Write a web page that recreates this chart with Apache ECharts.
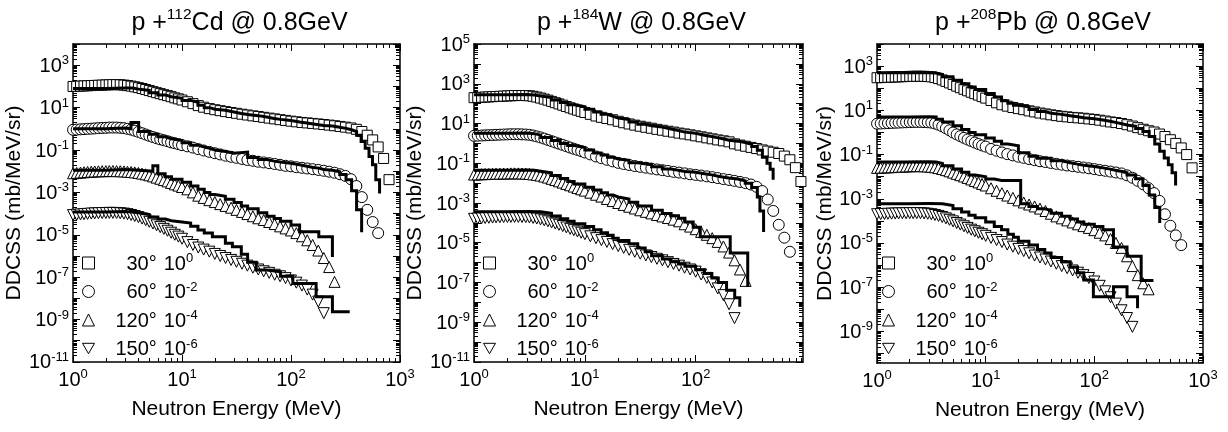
<!DOCTYPE html>
<html><head><meta charset="utf-8">
<script src="https://cdn.jsdelivr.net/npm/echarts@6/dist/echarts.min.js"></script>
<style>html,body{margin:0;padding:0;background:#fff}#c{width:1228px;height:432px}</style>
</head><body><div id="c"></div>
<script>
// ---------------- data ----------------
const EXP_ENERGY = [1.00,1.08,1.17,1.26,1.36,1.47,1.58,1.71,1.85,2.00,
 2.15,2.32,2.51,2.71,2.93,3.16,3.41,3.68,3.98,4.30,
 4.64,5.01,5.41,5.84,6.31,6.81,7.36,7.94,8.58,9.26,
 10.0,11.2,12.6,14.1,15.8,17.8,20.0,22.4,25.1,28.2,
 31.6,35.5,39.8,44.7,50.1,56.2,63.1,70.8,79.4,89.1,
 100,112,126,141,158,178,200,224,251,282,
 316,355,398,447,501,562,631,708,794,891];

const ANGLE_LABELS = ['30°','60°','120°','150°'];
const SCALE_EXPONENTS = ['0','-2','-4','-6'];

// p + 112Cd
const CD_EXP_30 = [100,102,104,106,108,110,112,114,116,118,
 120,122,122,120,116,110,104,96,88,80,
 72,64,57,51,46,41,37,33,29,26,
 23,19,15.5,12.5,10.5,9,8,7.2,6.5,5.9,
 5.4,4.9,4.5,4.1,3.8,3.5,3.2,2.95,2.7,2.5,
 2.3,2.15,2.0,1.9,1.8,1.7,1.6,1.5,1.4,1.3,
 1.2,1.1,0.95,0.75,0.5,0.3,0.14,0.04,0.004,null];
const CD_EXP_60 = [0.9,0.92,0.95,0.97,1.0,1.02,1.05,1.08,1.1,1.12,
 1.15,1.15,1.15,1.12,1.08,1.0,0.92,0.82,0.72,0.62,
 0.54,0.47,0.41,0.36,0.32,0.29,0.26,0.23,0.21,0.19,
 0.17,0.15,0.13,0.11,0.095,0.082,0.071,0.062,0.054,0.048,
 0.043,0.038,0.034,0.031,0.028,0.026,0.024,0.022,0.02,0.018,
 0.017,0.0155,0.0145,0.0135,0.0125,0.0115,0.0105,0.0095,0.0085,0.0072,
 0.006,0.0042,0.002,6e-4,1.5e-4,4e-5,1.2e-5,null,null,null];
const CD_EXP_120 = [0.008,0.0083,0.0086,0.0089,0.0092,0.0095,0.0097,0.0099,0.01,0.0101,
 0.0102,0.0102,0.0101,0.01,0.0098,0.0095,0.0092,0.0088,0.0083,0.0077,
 0.0071,0.0064,0.0057,0.005,0.0044,0.0038,0.0033,0.0028,0.0024,0.0021,
 0.0018,0.0014,0.001,7e-4,5.5e-4,4.3e-4,3.5e-4,2.8e-4,2.3e-4,1.9e-4,
 1.5e-4,1.2e-4,9.5e-5,7.5e-5,6e-5,5e-5,4e-5,3.2e-5,2.5e-5,2e-5,
 1.6e-5,1.2e-5,8.5e-6,5.5e-6,3.3e-6,1.8e-6,8e-7,3e-7,6e-8,null,
 null,null,null,null,null,null,null,null,null,null];
const CD_EXP_150 = [8.5e-5,8.8e-5,9.1e-5,9.4e-5,9.7e-5,1e-4,1.02e-4,1.04e-4,1.06e-4,1.07e-4,
 1.08e-4,1.08e-4,1.07e-4,1.04e-4,1e-4,9.4e-5,8.6e-5,7.7e-5,6.8e-5,5.8e-5,
 4.9e-5,4.1e-5,3.4e-5,2.8e-5,2.3e-5,1.9e-5,1.55e-5,1.25e-5,1e-5,8.2e-6,
 6.5e-6,4.5e-6,3.3e-6,2.5e-6,2e-6,1.6e-6,1.25e-6,1e-6,8e-7,6.5e-7,
 5.3e-7,4.3e-7,3.5e-7,2.8e-7,2.3e-7,1.9e-7,1.6e-7,1.3e-7,1.1e-7,9e-8,
 7e-8,5.5e-8,4e-8,2.6e-8,1.5e-8,7e-9,2e-9,null,null,null,
 null,null,null,null,null,null,null,null,null,null];
const CD_CALC_30_E = [1,2,3,3.5,4,5,6,7,8,10,12,14,16,18,20,25,30,35,40,50,60,70,80,100,120,140,160,180,200,240,280,320,360,400,440,480,520,560,600,650];
const CD_CALC_30_V = [80,85,85,75,65,50,40,33,28,22,18,13,10,8.5,7.5,6.2,5.3,4.7,4.2,3.6,3.1,2.8,2.5,2.1,1.9,1.7,1.55,1.45,1.35,1.2,1.05,0.9,0.75,0.5,0.25,0.12,0.05,0.02,0.004,0.0009];
const CD_CALC_60_E = [1,2,3,3.4,4,5,6,7,8,10,12,14,16,18,20,25,30,40,50,60,70,80,100,120,140,160,180,200,240,280,320,360,400,445];
const CD_CALC_60_V = [1.0,1.1,1.0,2.0,0.75,0.55,0.42,0.34,0.28,0.22,0.17,0.14,0.12,0.1,0.085,0.07,0.08,0.045,0.036,0.03,0.027,0.024,0.02,0.017,0.015,0.014,0.012,0.011,0.0095,0.007,0.004,0.0012,1.5e-4,1.3e-5];
const CD_CALC_120_E = [1,2,3,4,5.4,6,7,8,10,12,14,16,18,20,25,30,35,40,50,60,70,80,100,120,180,240];
const CD_CALC_120_V = [0.011,0.012,0.011,0.01,0.018,0.0075,0.0055,0.0042,0.003,0.002,0.0014,0.001,8e-4,6.5e-4,4.8e-4,3.3e-4,2.3e-4,1.7e-4,1.1e-4,7.5e-5,5.8e-5,4.3e-5,2.9e-5,1.4e-5,8e-6,9e-7];
const CD_CALC_150_E = [1,2,3,3.5,4,5,6,7,8,10,12,14,16,19,25,29,35,40,48,60,80,104,170,240,346];
const CD_CALC_150_V = [1.2e-4,1.25e-4,1.2e-4,1.1e-4,9e-5,7e-5,5.5e-5,4.6e-5,4e-5,3.6e-5,2.5e-5,1.7e-5,1.2e-5,8e-6,4e-6,2.7e-6,1.2e-6,5e-7,2.2e-7,1.8e-7,1.1e-7,5e-8,1.2e-8,2.3e-9,2.3e-9];

// p + 184W
const W_EXP_30 = [200,205,210,215,220,225,230,235,240,245,
 250,255,258,258,255,250,235,215,192,170,
 150,130,112,97,84,72,62,54,47,41,
 36,29,24,20.5,18,15.5,13,11,9.5,8.3,
 7.3,6.5,5.8,5.1,4.6,4.1,3.7,3.3,3.0,2.7,
 2.4,2.15,1.9,1.7,1.5,1.35,1.2,0.95,0.82,0.72,
 0.63,0.55,0.47,0.41,0.36,0.31,0.23,0.15,0.06,0.012];
const W_EXP_60 = [2.4,2.45,2.5,2.55,2.6,2.65,2.7,2.75,2.8,2.85,
 2.9,2.9,2.9,2.85,2.8,2.7,2.5,2.25,2.0,1.75,
 1.5,1.3,1.12,0.97,0.84,0.72,0.62,0.54,0.47,0.41,
 0.35,0.28,0.22,0.18,0.15,0.125,0.105,0.092,0.082,0.073,
 0.066,0.06,0.054,0.049,0.045,0.041,0.037,0.034,0.031,0.028,
 0.026,0.024,0.022,0.02,0.018,0.016,0.0145,0.013,0.0115,0.01,
 0.0085,0.0065,0.004,0.0015,4e-4,8e-5,1.8e-5,3.5e-6,null,null];
const W_EXP_120 = [0.027,0.0275,0.028,0.0285,0.029,0.0295,0.03,0.03,0.0305,0.0305,
 0.031,0.031,0.031,0.0305,0.03,0.029,0.0275,0.026,0.024,0.0215,
 0.019,0.0165,0.0143,0.0123,0.0106,0.0091,0.0078,0.0067,0.0057,0.0049,
 0.0042,0.0033,0.0026,0.0021,0.0016,0.00125,0.001,8e-4,6.5e-4,5.3e-4,
 4.3e-4,3.6e-4,3e-4,2.5e-4,2.1e-4,1.75e-4,1.45e-4,1.2e-4,8.5e-5,6.5e-5,
 4.8e-5,3.5e-5,2.5e-5,1.7e-5,1.1e-5,6.5e-6,3.2e-6,1.3e-6,4.5e-7,1.2e-7,
 null,null,null,null,null,null,null,null,null,null];
const W_EXP_150 = [1.6e-4,1.65e-4,1.7e-4,1.75e-4,1.8e-4,1.85e-4,1.9e-4,1.93e-4,1.96e-4,1.98e-4,
 2e-4,2e-4,2e-4,1.98e-4,1.94e-4,1.88e-4,1.78e-4,1.65e-4,1.5e-4,1.35e-4,
 1.2e-4,1.05e-4,9.2e-5,8e-5,6.9e-5,5.9e-5,5e-5,4.3e-5,3.7e-5,3.2e-5,
 2.7e-5,2.1e-5,1.7e-5,1.35e-5,1.1e-5,8.5e-6,6.8e-6,5.5e-6,4.4e-6,3.5e-6,
 2.8e-6,2.3e-6,1.9e-6,1.55e-6,1.3e-6,1.05e-6,8.5e-7,7e-7,5.5e-7,4.5e-7,
 3.5e-7,2.5e-7,1.7e-7,1e-7,5e-8,2.3e-8,8e-9,1.6e-9,null,null,
 null,null,null,null,null,null,null,null,null,null];
const W_CALC_30_E = [1,2,3,3.5,4,5,6,7,8,10,12,14,16,18,20,25,30,35,40,50,60,70,80,100,120,140,160,180,200,240,280,320,360,400,440,470,500];
const W_CALC_30_V = [280,290,270,240,205,155,115,88,70,52,38,29,23,19,16,12,9.3,7.8,6.6,5.3,4.4,3.7,3.2,2.6,2.2,1.9,1.65,1.45,1.3,1.1,0.9,0.7,0.45,0.2,0.1,0.05,0.015];
const W_CALC_60_E = [1,2,3,3.5,4,5,6,7,8,10,12,14,16,18,20,25,30,40,50,60,70,80,100,120,140,160,180,200,240,280,320,360,380,410];
const W_CALC_60_V = [3.2,3.3,3.1,2.6,2.0,1.4,1.0,0.78,0.62,0.46,0.33,0.26,0.2,0.165,0.14,0.105,0.085,0.066,0.052,0.044,0.039,0.035,0.03,0.026,0.022,0.02,0.018,0.016,0.013,0.01,0.006,0.002,4e-4,3.5e-5];
const W_CALC_120_E = [1,2,3,3.5,4,5,6,7,8,10,12,14,16,18,20,25,30,40,50,60,70,80,95,110,205,295];
const W_CALC_120_V = [0.045,0.046,0.045,0.04,0.033,0.024,0.017,0.012,0.009,0.0062,0.0045,0.0033,0.0025,0.002,0.0016,0.0011,7e-4,4.3e-4,3e-4,2.3e-4,1.7e-4,1.1e-4,6e-5,2e-5,3e-6,6e-8];
const W_CALC_150_E = [1,2,3,4,5,6,7,8,10,12,14,16,18,20,25,30,35,40,50,60,70,80,100,120,140,160,190,225,250];
const W_CALC_150_V = [3.6e-4,3.7e-4,3.6e-4,3e-4,2.2e-4,1.6e-4,1.2e-4,9e-5,6.5e-5,4.5e-5,3.2e-5,2.4e-5,1.7e-5,1.3e-5,9e-6,5.5e-6,3.5e-6,2.2e-6,1.5e-6,1.1e-6,8.5e-7,6.5e-7,4.3e-7,2.8e-7,1.7e-7,1e-7,4e-8,1.7e-8,6e-9];

// p + 208Pb
const PB_EXP_30 = [300,305,310,315,320,325,330,335,340,345,
 348,350,350,348,340,330,305,275,240,205,
 175,148,125,106,90,77,66,57,49,42,
 36,28,22,18,15.5,13.5,12,10.8,9.5,8.5,
 7.6,6.9,6.3,5.8,5.4,5.1,4.8,4.6,4.4,4.1,
 3.9,3.6,3.3,3.0,2.8,2.55,2.25,1.95,1.65,1.4,
 1.2,1.05,0.85,0.66,0.47,0.32,0.2,0.1,0.025,null];
const PB_EXP_60 = [2.5,2.55,2.6,2.65,2.7,2.75,2.8,2.85,2.9,2.95,
 3.0,3.0,3.0,2.95,2.9,2.8,2.55,2.25,1.9,1.55,
 1.25,1.0,0.82,0.68,0.57,0.48,0.41,0.35,0.3,0.26,
 0.23,0.18,0.15,0.125,0.105,0.092,0.08,0.071,0.063,0.056,
 0.05,0.046,0.042,0.038,0.035,0.032,0.03,0.028,0.026,0.024,
 0.022,0.02,0.0185,0.017,0.0155,0.014,0.0115,0.009,0.0065,0.0045,
 0.003,0.0018,8e-4,2e-4,6e-5,2.2e-5,8e-6,null,null,null];
const PB_EXP_120 = [0.025,0.0255,0.026,0.0265,0.027,0.0275,0.028,0.0285,0.029,0.0295,
 0.03,0.03,0.03,0.0295,0.029,0.028,0.0265,0.0245,0.0222,0.0198,
 0.0175,0.0153,0.0134,0.0117,0.0102,0.0088,0.0075,0.0064,0.0055,0.0047,
 0.004,0.003,0.0023,0.0018,0.0014,0.0011,8.5e-4,6.8e-4,5.5e-4,4.5e-4,
 3.6e-4,2.8e-4,2.1e-4,1.6e-4,1.3e-4,1.05e-4,8.5e-5,7e-5,5.8e-5,4.8e-5,
 3.8e-5,2.9e-5,2.2e-5,1.5e-5,1e-5,6e-6,2.5e-6,9e-7,3.5e-7,1.5e-7,
 8e-8,null,null,null,null,null,null,null,null,null];
const PB_EXP_150 = [2e-4,2.03e-4,2.06e-4,2.09e-4,2.12e-4,2.15e-4,2.18e-4,2.2e-4,2.22e-4,2.23e-4,
 2.24e-4,2.24e-4,2.22e-4,2.18e-4,2.1e-4,2e-4,1.85e-4,1.68e-4,1.5e-4,1.3e-4,
 1.12e-4,9.5e-5,8e-5,6.8e-5,5.7e-5,4.8e-5,4e-5,3.4e-5,2.9e-5,2.5e-5,
 2.1e-5,1.7e-5,1.35e-5,1.1e-5,8.5e-6,6.8e-6,5.4e-6,4.3e-6,3.4e-6,2.7e-6,
 2.2e-6,1.8e-6,1.45e-6,1.15e-6,9e-7,7.2e-7,5.7e-7,4.5e-7,3.5e-7,2.6e-7,
 1.8e-7,1.15e-7,6.5e-8,3.5e-8,1.8e-8,9e-9,4e-9,1.6e-9,null,null,
 null,null,null,null,null,null,null,null,null,null];
const PB_CALC_30_E = [1,2,3,3.5,4,5,6,7,8,10,12,14,16,18,20,25,30,35,40,50,60,70,80,100,120,140,160,180,200,240,280,320,360,400,440,480,520,560];
const PB_CALC_30_V = [500,510,490,420,330,230,160,115,88,58,40,27,21,17,14.5,11,8.8,7.5,6.6,5.7,5.1,4.6,4.2,3.7,3.2,2.8,2.5,2.2,1.9,1.5,1.1,0.65,0.3,0.14,0.07,0.035,0.015,0.004];
const PB_CALC_60_E = [1,2,3,3.5,4,5,6,7,8,10,12,14,16,20,25,30,40,50,60,70,80,100,120,140,160,180,200,240,280,320,360,400];
const PB_CALC_60_V = [5,5.2,5,4,3,2,1.35,1.0,0.78,0.56,0.4,0.3,0.25,0.12,0.085,0.068,0.052,0.043,0.037,0.033,0.029,0.025,0.022,0.019,0.017,0.015,0.012,0.008,0.004,0.0015,4e-4,8e-5];
const PB_CALC_120_E = [1,2,3,3.5,4,5,6,7,8,10,12,14,16,18,21,25,30,35,40,50,60,70,80,100,120,150,200,270,350];
const PB_CALC_120_V = [0.046,0.047,0.046,0.04,0.031,0.022,0.016,0.012,0.01,0.0078,0.0068,0.0068,0.0068,0.0068,6e-4,4.5e-4,3.5e-4,3e-4,2.2e-4,1.6e-4,1.2e-4,9e-5,7e-5,5.5e-5,4e-5,6.5e-6,2.5e-6,2e-7,2e-7];
const PB_CALC_150_E = [1,2,3,4,5,6,7,8,10,12,14,16,18,20,25,30,35,40,50,60,70,80,98,150,200,250];
const PB_CALC_150_V = [6e-4,6.1e-4,6e-4,5e-4,3.5e-4,2.5e-4,1.8e-4,1.4e-4,9e-5,5.5e-5,4e-5,2.5e-5,1.8e-5,1.2e-5,8e-6,5e-6,3.5e-6,2.2e-6,1.4e-6,8e-7,4.5e-7,2.1e-7,3.7e-8,1.05e-7,3.7e-8,1.1e-8];

// ---------------- chart construction ----------------
const FONT = '"Liberation Sans", Arial, Helvetica, sans-serif';
const BLACK = '#000';

function pairs(xs, ys) { const out = []; for (let i = 0; i < xs.length; i++) if (ys[i] != null) out.push([xs[i], ys[i]]); return out; }
function p10(k) { return Number('1e' + k); }
function decadeList(lo, hi, step) { const a = []; for (let k = lo; k <= hi; k += step) a.push(p10(k)); return a; }
function minorList(lo, hi) { const a = []; for (let k = lo; k < hi; k++) for (let m = 2; m <= 9; m++) a.push(Number(m + 'e' + k)); return a; }
function powLabel(v) { const e = Math.round(Math.log10(v)); return '{b|10}{s|' + e + '}'; }

const RICH = {
  b: { fontFamily: FONT, fontSize: 20, color: BLACK, lineHeight: 22, verticalAlign: 'bottom' },
  s: { fontFamily: FONT, fontSize: 13, color: BLACK, lineHeight: 13, verticalAlign: 'top' }
};

const PANELS = [
  { key: 'Cd', mass: '112', elem: 'Cd', left: 73, top: 44, width: 327, height: 318,
    xMin: 0.999, xMax: 1001, xLabelExp: [0, 1, 2, 3], xTickLo: 0, xTickHi: 3,
    yMin: 0.99e-11, yMax: 1.01e4, yLo: -11, yHi: 4, yLabelLo: -11, yLabelHi: 3, nameGap: 45, legendLeft: 82,
    exp: [CD_EXP_30, CD_EXP_60, CD_EXP_120, CD_EXP_150],
    calc: [[CD_CALC_30_E, CD_CALC_30_V], [CD_CALC_60_E, CD_CALC_60_V], [CD_CALC_120_E, CD_CALC_120_V], [CD_CALC_150_E, CD_CALC_150_V]] },
  { key: 'W', mass: '184', elem: 'W', left: 474, top: 44, width: 329, height: 318,
    xMin: 0.999, xMax: 930, xLabelExp: [0, 1, 2], xTickLo: 0, xTickHi: 3,
    yMin: 0.99e-11, yMax: 1.01e5, yLo: -11, yHi: 5, yLabelLo: -11, yLabelHi: 5, nameGap: 43, legendLeft: 483,
    exp: [W_EXP_30, W_EXP_60, W_EXP_120, W_EXP_150],
    calc: [[W_CALC_30_E, W_CALC_30_V], [W_CALC_60_E, W_CALC_60_V], [W_CALC_120_E, W_CALC_120_V], [W_CALC_150_E, W_CALC_150_V]] },
  { key: 'Pb', mass: '208', elem: 'Pb', left: 877, top: 44, width: 326, height: 319,
    xMin: 0.999, xMax: 1001, xLabelExp: [0, 1, 2, 3], xTickLo: 0, xTickHi: 3,
    yMin: 3.7e-11, yMax: 1.01e4, yLo: -10, yHi: 4, yLabelLo: -9, yLabelHi: 3, nameGap: 36, legendLeft: 882,
    exp: [PB_EXP_30, PB_EXP_60, PB_EXP_120, PB_EXP_150],
    calc: [[PB_CALC_30_E, PB_CALC_30_V], [PB_CALC_60_E, PB_CALC_60_V], [PB_CALC_120_E, PB_CALC_120_V], [PB_CALC_150_E, PB_CALC_150_V]] }
];

const SYMBOLS = ['rect', 'circle', 'triangle', 'path://M0,0L20,0L10,17.3Z'];
const SYMBOL_SIZES = [10, 11, 11, 11];

const grids = [], xAxes = [], yAxes = [], series = [], titles = [], legends = [];
const tickStyle = { color: BLACK, width: 1 };
const lineStyle = { color: BLACK, width: 1.5 };

PANELS.forEach((p, gi) => {
  grids.push({ left: p.left, top: p.top, width: p.width, height: p.height, containLabel: false, outerBoundsMode: 'none' });

  const xBase = { type: 'log', logBase: 10, gridIndex: gi, min: p.xMin, max: p.xMax,
    splitLine: { show: false }, minorTick: { show: false }, minorSplitLine: { show: false } };
  const xMajor = decadeList(p.xTickLo, p.xTickHi, 1);
  const xMinor = minorList(p.xTickLo, p.xTickHi);
  const xLabels = p.xLabelExp.map(p10);
  ['bottom', 'top'].forEach(pos => {
    xAxes.push(Object.assign({}, xBase, { position: pos,
      axisLine: { show: true, onZero: false, lineStyle: lineStyle },
      axisTick: { show: true, inside: true, length: 7, customValues: xMajor, lineStyle: tickStyle },
      axisLabel: pos === 'bottom'
        ? { show: true, customValues: xLabels, margin: 6, formatter: powLabel, rich: RICH, showMinLabel: true, showMaxLabel: true }
        : { show: false },
      name: pos === 'bottom' ? 'Neutron Energy (MeV)' : '', nameLocation: 'middle', nameGap: 37,
      nameTextStyle: { fontFamily: FONT, fontSize: 21, color: BLACK } }));
    xAxes.push(Object.assign({}, xBase, { position: pos,
      axisLine: { show: false, onZero: false },
      axisTick: { show: true, inside: true, length: 4, customValues: xMinor, lineStyle: tickStyle },
      axisLabel: { show: false } }));
  });

  const yBase = { type: 'log', logBase: 10, gridIndex: gi, min: p.yMin, max: p.yMax,
    splitLine: { show: false }, minorTick: { show: false }, minorSplitLine: { show: false } };
  const yMajor = decadeList(p.yLo, p.yHi, 1);
  const yMinor = minorList(p.yLo - 1, p.yHi);
  const yLabels = decadeList(p.yLabelLo, p.yLabelHi, 2);
  ['left', 'right'].forEach(pos => {
    yAxes.push(Object.assign({}, yBase, { position: pos,
      axisLine: { show: true, onZero: false, lineStyle: lineStyle },
      axisTick: { show: true, inside: true, length: 7, customValues: yMajor, lineStyle: tickStyle },
      axisLabel: pos === 'left'
        ? { show: true, customValues: yLabels, margin: 4, formatter: powLabel, rich: RICH, showMinLabel: true, showMaxLabel: true }
        : { show: false },
      name: pos === 'left' ? 'DDCSS (mb/MeV/sr)' : '', nameLocation: 'middle', nameRotate: 90, nameGap: p.nameGap,
      nameTextStyle: { fontFamily: FONT, fontSize: 21, color: BLACK } }));
    yAxes.push(Object.assign({}, yBase, { position: pos,
      axisLine: { show: false, onZero: false },
      axisTick: { show: true, inside: true, length: 4, customValues: yMinor, lineStyle: tickStyle },
      axisLabel: { show: false } }));
  });

  const legendNames = [];
  p.exp.forEach((vals, j) => {
    const nm = p.key + '|' + j;
    legendNames.push(nm);
    series.push({ type: 'scatter', name: nm, xAxisIndex: gi * 4, yAxisIndex: gi * 4,
      data: pairs(EXP_ENERGY, vals), symbol: SYMBOLS[j], symbolSize: SYMBOL_SIZES[j],
      itemStyle: { color: '#fff', borderColor: BLACK, borderWidth: 1, opacity: 1 },
      silent: true, z: 2, animation: false });
  });
  p.calc.forEach((ev, j) => {
    series.push({ type: 'line', name: p.key + '-calc-' + j, xAxisIndex: gi * 4, yAxisIndex: gi * 4,
      data: pairs(ev[0], ev[1]), step: 'end', showSymbol: false, symbol: 'none',
      lineStyle: { color: BLACK, width: 3, join: 'miter', cap: 'butt' },
      silent: true, z: 3, animation: false });
  });

  titles.push({ text: '{m|p +}{s|' + p.mass + '}{m|' + p.elem + ' @ 0.8GeV}',
    left: p.left + p.width / 2 + 3, top: 7, padding: 0, textAlign: 'center',
    textStyle: { fontWeight: 'normal', rich: {
      m: { fontFamily: FONT, fontSize: 25, fontWeight: 'normal', color: BLACK, lineHeight: 29, verticalAlign: 'bottom' },
      s: { fontFamily: FONT, fontSize: 15.5, fontWeight: 'normal', color: BLACK, lineHeight: 15, verticalAlign: 'top' } } } });

  legends.push({ show: true, orient: 'vertical', left: p.legendLeft, top: 252, padding: 0,
    itemGap: 6.5, itemWidth: 12, itemHeight: 12, selectedMode: false, data: legendNames,
    itemStyle: { borderWidth: 1, borderColor: BLACK, color: '#fff' },
    formatter: function (name) { const j = Number(name.split('|')[1]);
      const tok = ANGLE_LABELS[j].length > 3 ? 'a' : 'c';
      return '{' + tok + '|' + ANGLE_LABELS[j] + '}{b|10}{s|' + SCALE_EXPONENTS[j] + '}'; },
    textStyle: { rich: {
      a: { fontFamily: FONT, fontSize: 20, color: BLACK, lineHeight: 22, verticalAlign: 'bottom', padding: [0, 0, 0, 16] },
      c: { fontFamily: FONT, fontSize: 20, color: BLACK, lineHeight: 22, verticalAlign: 'bottom', padding: [0, 0, 0, 27] },
      b: { fontFamily: FONT, fontSize: 20, color: BLACK, lineHeight: 22, verticalAlign: 'bottom', padding: [0, 0, 0, 7] },
      s: { fontFamily: FONT, fontSize: 13, color: BLACK, lineHeight: 13, verticalAlign: 'top' } } } });
});

const chart = echarts.init(document.getElementById('c'), null, { renderer: 'canvas' });
chart.setOption({
  animation: false,
  backgroundColor: '#fff',
  textStyle: { fontFamily: FONT, color: BLACK },
  title: titles,
  legend: legends,
  grid: grids,
  xAxis: xAxes,
  yAxis: yAxes,
  series: series
});
</script>
</body></html>
